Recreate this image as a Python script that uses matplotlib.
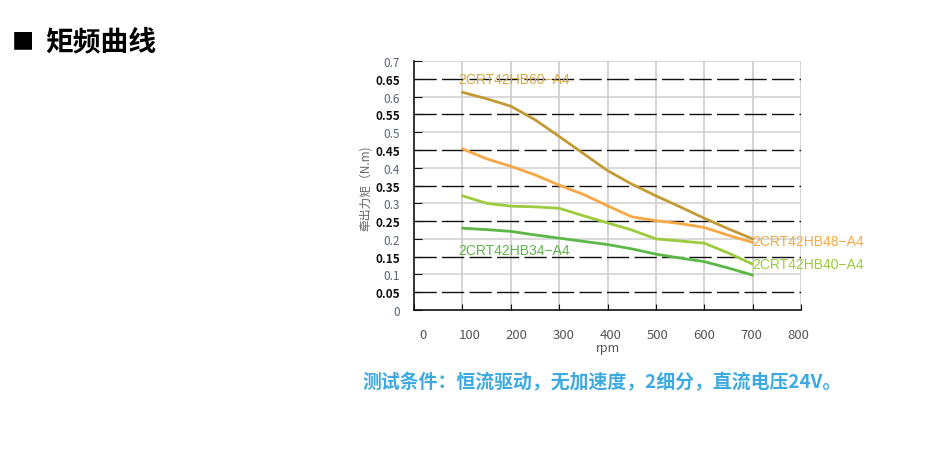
import matplotlib
matplotlib.use("Agg")
import matplotlib.pyplot as plt
from matplotlib.transforms import ScaledTranslation

plt.rcParams['font.family'] = ['Noto Sans CJK SC', 'DejaVu Sans']

# speed (rpm) and torque (N.m)
rpm = [100, 150, 200, 250, 300, 350, 400, 450, 500, 550, 600, 650, 700]
hb60 = [0.612, 0.594, 0.573, 0.535, 0.488, 0.440, 0.392, 0.354, 0.321, 0.290, 0.258, 0.228, 0.200]
hb48 = [0.453, 0.425, 0.404, 0.380, 0.351, 0.325, 0.293, 0.262, 0.251, 0.243, 0.232, 0.210, 0.190]
hb40 = [0.321, 0.300, 0.292, 0.290, 0.286, 0.265, 0.245, 0.225, 0.200, 0.194, 0.188, 0.160, 0.129]
hb34 = [0.230, 0.226, 0.221, 0.211, 0.202, 0.193, 0.184, 0.172, 0.157, 0.146, 0.136, 0.118, 0.098]

names = ['2CRT42HB60\u2212A4', '2CRT42HB48\u2212A4', '2CRT42HB40\u2212A4', '2CRT42HB34\u2212A4']
line_colors = ['#C49A35', '#F7A845', '#9CCB3D', '#5CB846']
label_colors = ['#D9A83E', '#F7A845', '#9CCB3D', '#5CB846']
label_pos = [(92, 0.65), (700, 0.193), (700, 0.129), (92, 0.168)]

x_ticks = [0, 100, 200, 300, 400, 500, 600, 700, 800]
y_solid = [0.1, 0.2, 0.3, 0.4, 0.5, 0.6, 0.7]
y_dash = [0.05, 0.15, 0.25, 0.35, 0.45, 0.55, 0.65]

fig = plt.figure(figsize=(9.44, 4.52), dpi=100)
ax = fig.add_axes([414 / 944, 1 - 311 / 452, 387 / 944, 249 / 452])
ax.set_xlim(0, 800)
ax.set_ylim(0, 0.7)

# grid
for x in x_ticks[1:]:
    ax.axvline(x, color='#C8C8C8', lw=1.1, zorder=1)
for y in y_solid:
    ax.axhline(y, color='#D0D0D0', lw=1.1, zorder=1)
for y in y_dash:
    ax.axhline(y, color='#111111', lw=1.0, ls=(0, (16, 3.8)), zorder=2)

for vals, c in zip([hb60, hb48, hb40, hb34], line_colors):
    ax.plot(rpm, vals, color=c, lw=2.0, solid_capstyle='round', solid_joinstyle='round', zorder=3)

for name, c, (lx, ly) in zip(names, label_colors, label_pos):
    ax.text(lx, ly, name, color=c, fontsize=10, family=['Liberation Sans', 'DejaVu Sans'],
            va='center', ha='left', clip_on=False, zorder=4)

for side in ['top', 'right']:
    ax.spines[side].set_visible(False)
ax.spines['left'].set_color('#111111')
ax.spines['bottom'].set_color('#111111')
ax.spines['left'].set_linewidth(1.2)
ax.spines['bottom'].set_linewidth(1.2)

ax.set_xticks(x_ticks)
ax.set_xticklabels([str(v) for v in x_ticks], color='#555555', fontsize=9.5)
ax.tick_params(axis='x', direction='in', length=4, color='#111111', pad=13)
# the x labels in the source sit on a slightly narrower spacing than the grid
for i, lab in enumerate(ax.get_xticklabels()):
    dx = (9 - 1.5 * i) / 100
    lab.set_transform(lab.get_transform() + ScaledTranslation(dx, 0, fig.dpi_scale_trans))

y_ticks = sorted(y_solid + y_dash + [0])
ax.set_yticks(y_ticks)
ylabels = []
for v in y_ticks:
    if v in y_dash:
        ylabels.append(f"{v:.2f}")
    elif v == 0:
        ylabels.append("0")
    else:
        ylabels.append(f"{v:.1f}")
ax.set_yticklabels(ylabels, fontsize=8.5)
for lab, v in zip(ax.get_yticklabels(), y_ticks):
    if v in y_dash:
        lab.set_fontweight('bold')
        lab.set_color('#111111')
    else:
        lab.set_color('#56657A')
ax.tick_params(axis='y', direction='in', length=6, color='#111111', pad=10)

ax.text(0.5, -0.15, 'rpm', transform=ax.transAxes, ha='center', va='center',
        color='#555555', fontsize=9)
fig.text(365 / 944, 1 - 188 / 452, '牵出力矩（N.m)', rotation=90, ha='center', va='center',
         color='#666666', fontsize=8.5)

# header and note
fig.text(12 / 944, 1 - 42 / 452, '■', fontsize=16, fontweight='bold', va='center', ha='left',
         color='#000000')
fig.text(45 / 944, 1 - 42 / 452, '矩频曲线', fontsize=20, fontweight='bold', va='center', ha='left',
         color='#000000')
fig.text(362 / 944, 1 - 383 / 452, '测试条件：恒流驱动，无加速度，2细分，直流电压24V。', fontsize=13.6,
         fontweight='bold', va='center', ha='left', color='#3DAAE0')

fig.savefig('out.png', dpi=100)
